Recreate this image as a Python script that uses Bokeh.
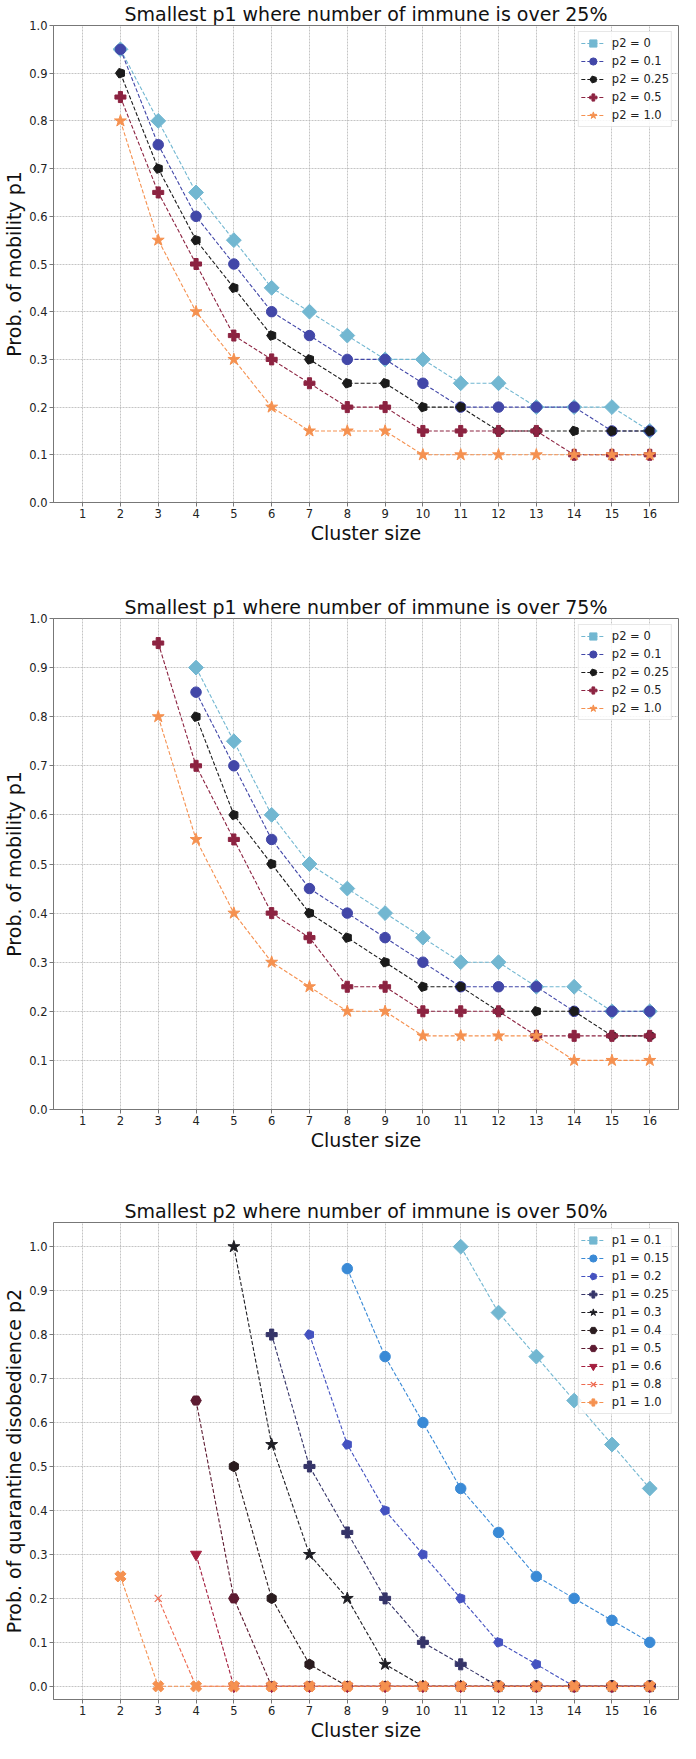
import math
import numpy as np
from bokeh.plotting import figure
from bokeh.layouts import column
from bokeh.models import Range1d, FixedTicker, PrintfTickFormatter, Legend, LegendItem
from bokeh.embed import file_html
from bokeh.resources import INLINE

nan = float("nan")

# ---------------- data ----------------
cluster_size = list(range(1, 17))
x_ticks = list(range(1, 17))
y_ticks = [0.0, 0.1, 0.2, 0.3, 0.4, 0.5, 0.6, 0.7, 0.8, 0.9, 1.0]

# Panel 1: smallest p1 where immune > 25%
a_labels = ["p2 = 0", "p2 = 0.1", "p2 = 0.25", "p2 = 0.5", "p2 = 1.0"]
a_p2_0    = [nan, 0.95, 0.80, 0.65, 0.55, 0.45, 0.40, 0.35, 0.30, 0.30, 0.25, 0.25, 0.20, 0.20, 0.20, 0.15]
a_p2_01   = [nan, 0.95, 0.75, 0.60, 0.50, 0.40, 0.35, 0.30, 0.30, 0.25, 0.20, 0.20, 0.20, 0.20, 0.15, 0.15]
a_p2_025  = [nan, 0.90, 0.70, 0.55, 0.45, 0.35, 0.30, 0.25, 0.25, 0.20, 0.20, 0.15, 0.15, 0.15, 0.15, 0.15]
a_p2_05   = [nan, 0.85, 0.65, 0.50, 0.35, 0.30, 0.25, 0.20, 0.20, 0.15, 0.15, 0.15, 0.15, 0.10, 0.10, 0.10]
a_p2_1    = [nan, 0.80, 0.55, 0.40, 0.30, 0.20, 0.15, 0.15, 0.15, 0.10, 0.10, 0.10, 0.10, 0.10, 0.10, 0.10]

# Panel 2: smallest p1 where immune > 75%
b_labels = ["p2 = 0", "p2 = 0.1", "p2 = 0.25", "p2 = 0.5", "p2 = 1.0"]
b_p2_0    = [nan, nan, nan, 0.90, 0.75, 0.60, 0.50, 0.45, 0.40, 0.35, 0.30, 0.30, 0.25, 0.25, 0.20, 0.20]
b_p2_01   = [nan, nan, nan, 0.85, 0.70, 0.55, 0.45, 0.40, 0.35, 0.30, 0.25, 0.25, 0.25, 0.20, 0.20, 0.20]
b_p2_025  = [nan, nan, nan, 0.80, 0.60, 0.50, 0.40, 0.35, 0.30, 0.25, 0.25, 0.20, 0.20, 0.20, 0.15, 0.15]
b_p2_05   = [nan, nan, 0.95, 0.70, 0.55, 0.40, 0.35, 0.25, 0.25, 0.20, 0.20, 0.20, 0.15, 0.15, 0.15, 0.15]
b_p2_1    = [nan, nan, 0.80, 0.55, 0.40, 0.30, 0.25, 0.20, 0.20, 0.15, 0.15, 0.15, 0.15, 0.10, 0.10, 0.10]

# Panel 3: smallest p2 where immune > 50%
c_labels = ["p1 = 0.1", "p1 = 0.15", "p1 = 0.2", "p1 = 0.25", "p1 = 0.3",
            "p1 = 0.4", "p1 = 0.5", "p1 = 0.6", "p1 = 0.8", "p1 = 1.0"]
c_p1_01   = [nan, nan, nan, nan, nan, nan, nan, nan, nan, nan, 1.00, 0.85, 0.75, 0.65, 0.55, 0.45]
c_p1_015  = [nan, nan, nan, nan, nan, nan, nan, 0.95, 0.75, 0.60, 0.45, 0.35, 0.25, 0.20, 0.15, 0.10]
c_p1_02   = [nan, nan, nan, nan, nan, nan, 0.80, 0.55, 0.40, 0.30, 0.20, 0.10, 0.05, 0.0, 0.0, 0.0]
c_p1_025  = [nan, nan, nan, nan, nan, 0.80, 0.50, 0.35, 0.20, 0.10, 0.05, 0.0, 0.0, 0.0, 0.0, 0.0]
c_p1_03   = [nan, nan, nan, nan, 1.00, 0.55, 0.30, 0.20, 0.05, 0.0, 0.0, 0.0, 0.0, 0.0, 0.0, 0.0]
c_p1_04   = [nan, nan, nan, nan, 0.50, 0.20, 0.05, 0.0, 0.0, 0.0, 0.0, 0.0, 0.0, 0.0, 0.0, 0.0]
c_p1_05   = [nan, nan, nan, 0.65, 0.20, 0.0, 0.0, 0.0, 0.0, 0.0, 0.0, 0.0, 0.0, 0.0, 0.0, 0.0]
c_p1_06   = [nan, nan, nan, 0.30, 0.0, 0.0, 0.0, 0.0, 0.0, 0.0, 0.0, 0.0, 0.0, 0.0, 0.0, 0.0]
c_p1_08   = [nan, nan, 0.20, 0.0, 0.0, 0.0, 0.0, 0.0, 0.0, 0.0, 0.0, 0.0, 0.0, 0.0, 0.0, 0.0]
c_p1_1    = [nan, 0.25, 0.0, 0.0, 0.0, 0.0, 0.0, 0.0, 0.0, 0.0, 0.0, 0.0, 0.0, 0.0, 0.0, 0.0]

# ---------------- styles ----------------
FONT = "DejaVu Sans"
# (color, marker, size, angle)
style_p2 = [
    ("#72b7d1", "square", 10.5, math.pi / 4),
    ("#4247a8", "circle", 10.5, 0.0),
    ("#1b1b1b", "pentagon", 10.0, 0.0),
    ("#8c2341", "plus", 11.0, 0.0),
    ("#f59150", "star", 12.5, 0.0),
]
style_p1 = [
    ("#72b7d1", "square", 10.5, math.pi / 4),
    ("#3a8ad6", "circle", 10.5, 0.0),
    ("#4452c0", "pentagon", 10.0, 0.0),
    ("#353468", "plus", 11.0, 0.0),
    ("#1e1e24", "star", 12.5, 0.0),
    ("#2a1c1f", "hex", 10.5, math.pi / 6),
    ("#5d1b31", "hex", 10.5, 0.0),
    ("#a41f3f", "inverted_triangle", 11.0, 0.0),
    ("#ee6a50", "x", 10.0, 0.0),
    ("#f59150", "plus", 11.5, math.pi / 4),
]


def make_panel(title, ylabel, series, labels, styles, yr, height, top_border):
    p = figure(width=680, height=height, output_backend="svg", toolbar_location=None,
               x_range=Range1d(0.23, 16.76), y_range=Range1d(*yr),
               min_border_left=46, min_border_right=2,
               min_border_top=top_border, min_border_bottom=43)
    p.title.text = title
    p.title.align = "center"
    p.title.text_font = FONT
    p.title.text_font_size = "19px"
    p.title.text_font_style = "normal"
    p.title.text_color = "#111111"
    p.title.standoff = 1

    p.background_fill_color = "white"
    p.border_fill_color = "white"
    p.outline_line_color = "#777777"
    p.outline_line_width = 1

    p.xaxis.ticker = FixedTicker(ticks=x_ticks)
    p.yaxis.ticker = FixedTicker(ticks=y_ticks)
    p.yaxis.formatter = PrintfTickFormatter(format="%.1f")
    for ax in (p.xaxis, p.yaxis):
        ax.axis_line_color = "#777777"
        ax.major_tick_line_color = "#777777"
        ax.major_tick_in = 0
        ax.major_tick_out = 4
        ax.minor_tick_line_color = None
        ax.major_label_text_font = FONT
        ax.major_label_text_font_size = "11.5px"
        ax.major_label_text_color = "#222222"
        ax.major_label_standoff = 2
        ax.axis_label_text_font = FONT
        ax.axis_label_text_font_size = "19px"
        ax.axis_label_text_font_style = "normal"
        ax.axis_label_text_color = "#111111"
        ax.axis_label_standoff = 1
    p.xaxis.axis_label = "Cluster size"
    p.yaxis.axis_label = ylabel

    p.grid.grid_line_color = "#b5b5b5"
    p.grid.grid_line_dash = "2 1"
    p.grid.grid_line_width = 0.8

    xs = np.array(cluster_size, dtype=float)
    items = []
    for vals, lab, (col, mk, sz, ang) in zip(series, labels, styles):
        ys = np.array(vals, dtype=float)
        ok = np.isfinite(ys)
        lr = p.line(xs[ok], ys[ok], line_color=col, line_width=1.1, line_dash="4 2")
        if mk == "pentagon":
            if hasattr(p, "ngon"):
                mr = p.ngon(x=xs[ok], y=ys[ok], radius=sz / 2.0, radius_units="screen", n=5,
                            angle=math.pi / 2, fill_color=col, line_color=col)
            else:
                mr = p.scatter(xs[ok], ys[ok], marker="hex", size=sz,
                               fill_color=col, line_color=col)
        elif mk == "x":
            mr = p.scatter(xs[ok], ys[ok], marker="x", size=sz, line_color=col, line_width=1.2)
        else:
            mr = p.scatter(xs[ok], ys[ok], marker=mk, size=sz, angle=ang,
                           fill_color=col, line_color=col)
        items.append(LegendItem(label=lab, renderers=[lr, mr]))

    leg = Legend(items=items, location="top_right")
    leg.margin = 6
    leg.padding = 2
    leg.glyph_width = 24
    leg.glyph_height = 18
    leg.label_height = 14
    leg.spacing = 0
    leg.label_standoff = 7
    leg.label_text_font = FONT
    leg.label_text_font_size = "11.5px"
    leg.label_text_color = "#222222"
    leg.border_line_color = "#d0d0d0"
    leg.background_fill_alpha = 0.85
    p.add_layout(leg, "center")
    return p


p1 = make_panel("Smallest p1 where number of immune is over 25%", "Prob. of mobility p1",
                [a_p2_0, a_p2_01, a_p2_025, a_p2_05, a_p2_1], a_labels, style_p2,
                (0.0, 1.0), 546, 18)
p2 = make_panel("Smallest p1 where number of immune is over 75%", "Prob. of mobility p1",
                [b_p2_0, b_p2_01, b_p2_025, b_p2_05, b_p2_1], b_labels, style_p2,
                (0.0, 1.0), 607, 72)
p3 = make_panel("Smallest p2 where number of immune is over 50%", "Prob. of quarantine disobedience p2",
                [c_p1_01, c_p1_015, c_p1_02, c_p1_025, c_p1_03, c_p1_04, c_p1_05, c_p1_06, c_p1_08, c_p1_1],
                c_labels, style_p1, (-0.03, 1.055), 590, 69)

layout = column(p1, p2, p3)
open("out.html", "w").write(file_html(layout, INLINE))
